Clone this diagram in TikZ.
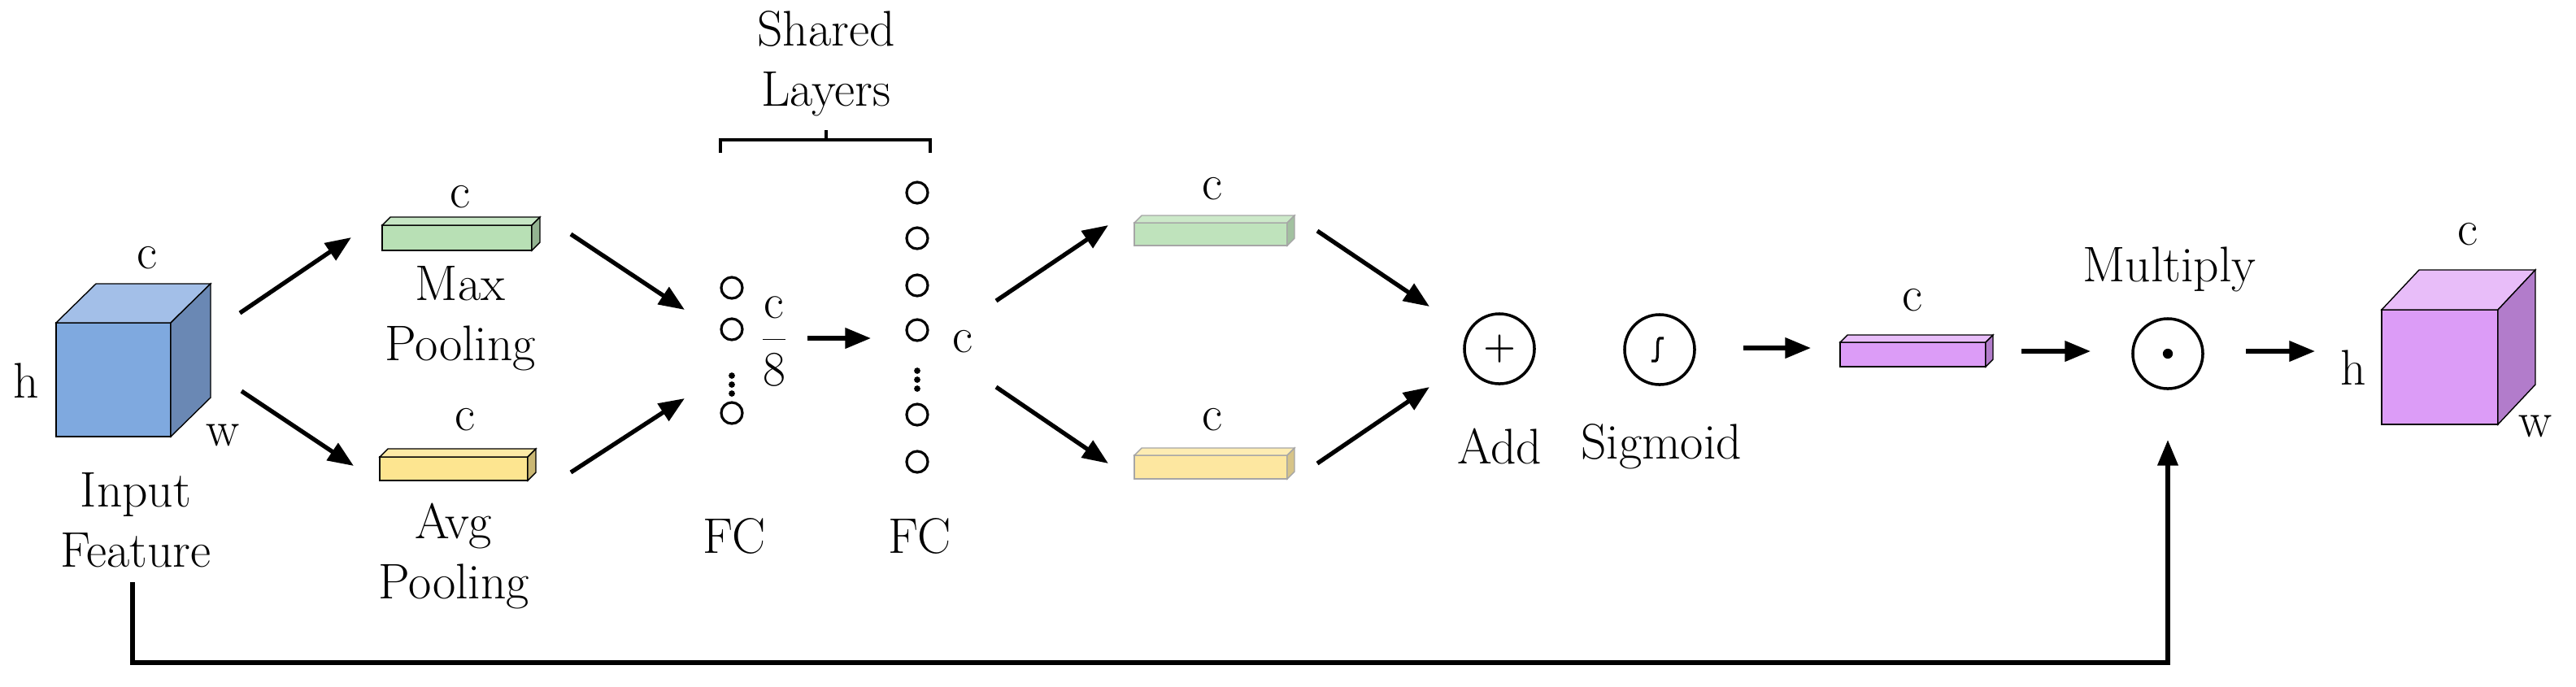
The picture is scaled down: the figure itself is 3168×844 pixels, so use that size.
\documentclass[tikz,border=0pt]{standalone}
\usetikzlibrary{arrows.meta,calc}
\definecolor{bF}{HTML}{7FA9DF}\definecolor{bT}{HTML}{A3BFE8}\definecolor{bS}{HTML}{6A88B4}
\definecolor{pF}{HTML}{DC9CF7}\definecolor{pT}{HTML}{E8BDF9}\definecolor{pS}{HTML}{B27CCB}
\definecolor{gF}{HTML}{B8E0B5}\definecolor{yF}{HTML}{FDE590}
\definecolor{gL}{HTML}{BFE3BC}\definecolor{yL}{HTML}{FDE7A0}
\newcommand\mybox[8]{% x1 y1 x2 y2 dx dy colour-prefix draw-colour
 \filldraw[draw=#8,fill=#7F] (#1,#2) rectangle (#3,#4);
 \filldraw[draw=#8,fill=#7T] (#1,#2) -- ++(#5,#6) -- ($(#3,#2)+(#5,#6)$) -- (#3,#2) -- cycle;
 \filldraw[draw=#8,fill=#7S] (#3,#2) -- ++(#5,#6) -- ($(#3,#4)+(#5,#6)$) -- (#3,#4) -- cycle;}
\colorlet{gFF}{gF}\colorlet{gFT}{gF!80!white}\colorlet{gFS}{gF!80!black}
\colorlet{yFF}{yF}\colorlet{yFT}{yF!80!white}\colorlet{yFS}{yF!80!black}
\colorlet{gLF}{gL}\colorlet{gLT}{gL!80!white}\colorlet{gLS}{gL!85!black}
\colorlet{yLF}{yL}\colorlet{yLT}{yL!80!white}\colorlet{yLS}{yL!85!black}
\colorlet{pbF}{pF}\colorlet{pbT}{pT}\colorlet{pbS}{pS}
\begin{document}
\begin{tikzpicture}[x=0.01cm,y=-0.01cm,
 every node/.style={font=\fontsize{17.5}{19}\selectfont, inner sep=0pt, align=center},
 arr/.style={-{Triangle[length=9pt,width=7pt]}, line width=1.5pt},
 neu/.style={circle, draw, line width=0.9pt, minimum size=0.26cm},
 op/.style={circle, draw, line width=1pt, minimum width=0.78cm, minimum height=0.86cm, font=\fontsize{13}{14}\selectfont},
 vd/.style={fill, circle, inner sep=0pt, minimum size=2.2pt}]
\useasboundingbox (0,0) rectangle (3168,844);
% input cube
\mybox{69}{397}{210}{537}{49}{-48}{b}{black}
\node (ic) at (181,317) {c};
\node (ih) at (32,468) {h};
\node (iw) at (274,535) {w};
\node (inp) at (167,640) {Input\\[2pt]Feature};
% pooling bars
\mybox{470}{277}{654}{308}{10}{-10}{gF}{black}
\node (gc) at (566,242) {c};
\node (mp) at (566,392) {Max\\[2pt]Pooling};
\mybox{467}{562}{649}{591}{10}{-10}{yF}{black}
\node (yc) at (572,516) {c};
\node (ap) at (558,684) {Avg\\[2pt]Pooling};
% FC1
\foreach \n/\y in {1/354,2/405,3/508} \node[neu] (a\n) at (900,\y) {};
\foreach \n/\y in {1/462,2/473,3/484} \node[vd] (ad\n) at (900,\y) {};
\node (frac) at (952,420) {$\displaystyle\frac{\mathrm{c}}{8}$};
% FC2
\foreach \n/\y in {1/237,2/293,3/351,4/406,5/510,6/568} \node[neu] (b\n) at (1128,\y) {};
\foreach \n/\y in {1/456,2/467,3/478} \node[vd] (bd\n) at (1128,\y) {};
\node (c2) at (1184,420) {c};
\node (fc1) at (903,659) {FC};
\node (fc2) at (1131,659) {FC};
\node (sl) at (1016,78) {Shared\\[2pt]Layers};
\draw[line width=1pt] (886,188) -- (886,172) -- (1144,172) -- (1144,188) (1016,172) -- (1016,160);
% second bars
\mybox{1395}{274}{1583}{302}{9}{-9}{gL}{gray!70}
\node (gc2) at (1491,232) {c};
\mybox{1395}{560}{1583}{589}{9}{-9}{yL}{gray!70}
\node (yc2) at (1491,516) {c};
% ops
\node[op] (add) at (1844,429) {\textbf{+}};
\node (addl) at (1844,549) {Add};
\node[op] (sig) at (2041,430) {};
\draw[line width=0.9pt] (sig.center) ++(-10,14) -- ++(5,0) .. controls ++(5,0) and ++(-5,0) .. ++(5,-28) -- ++(5,0);
\node (sigl) at (2043,549) {Sigmoid};
\mybox{2263}{421}{2442}{451}{9}{-9}{pb}{black}
\node (pc) at (2352,369) {c};
\node[op] (mul) at (2666,435) {};
\node[vd, minimum size=3.5pt] (muld) at (mul.center) {};
\node (mull) at (2668,331) {Multiply};
% output cube
\mybox{2929}{381}{3072}{522}{46}{-49}{p}{black}
\node (oc) at (3035,288) {c};
\node (oh) at (2894,452) {h};
\node (ow) at (3118,524) {w};
% arrows
\coordinate (s1) at (295,385); \coordinate (e1) at (432,292);
\coordinate (s2) at (297,481); \coordinate (e2) at (435,573);
\coordinate (s3) at (702,288); \coordinate (e3) at (842,381);
\coordinate (s4) at (702,581); \coordinate (e4) at (842,490);
\coordinate (s5) at (993,416); \coordinate (e5) at (1071,416);
\coordinate (s6) at (1225,370); \coordinate (e6) at (1363,277);
\coordinate (s7) at (1225,476); \coordinate (e7) at (1363,570);
\coordinate (s8) at (1620,284); \coordinate (e8) at (1758,377);
\coordinate (s9) at (1620,570); \coordinate (e9) at (1758,476);
\coordinate (s10) at (2144,428); \coordinate (e10) at (2227,428);
\coordinate (s11) at (2486,432); \coordinate (e11) at (2571,432);
\coordinate (s12) at (2762,432); \coordinate (e12) at (2847,432);
\foreach \i in {1,...,12} \draw[arr] (s\i) -- (e\i);
\coordinate (lb) at (163,716); \coordinate (le) at (2666,541);
\draw[arr] (lb) |- (1400,815) -| (le);
\end{tikzpicture}
\end{document}
